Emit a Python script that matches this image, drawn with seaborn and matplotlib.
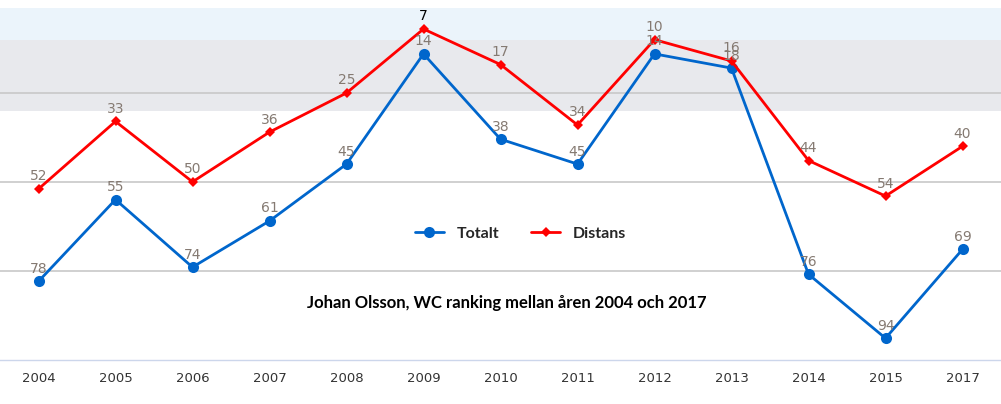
import pandas as pd
import numpy as np
import matplotlib.pyplot as plt
import seaborn as sns

# data
years = ['2004', '2005', '2006', '2007', '2008', '2009', '2010',
         '2011', '2012', '2013', '2014', '2015', '2017']
totalt = [78, 55, 74, 61, 45, 14, 38, 45, 14, 18, 76, 94, 69]
distans = [52, 33, 50, 36, 25, 7, 17, 34, 10, 16, 44, 54, 40]

df = pd.DataFrame({'year': years, 'Totalt': totalt, 'Distans': distans})
df['pos'] = np.arange(len(years))

sns.set_theme(style='white')
plt.rcParams['font.family'] = ['DejaVu Sans']

fig = plt.figure(figsize=(10.01, 4.04), dpi=100)
ax = fig.add_axes([0.0, 0.110, 1.0, 0.871])

# bands and grid
ax.axhspan(1, 10, color='#ebf4fb', zorder=0, lw=0)
ax.axhspan(10, 30, color='#e8e9ed', zorder=0, lw=0)
for g in [25, 50, 75]:
    ax.axhline(g, color='#c8c8c8', lw=1.2, zorder=1)

blue = '#0066cc'
red = '#ff0000'
sns.lineplot(data=df, x='pos', y='Totalt', ax=ax, color=blue, lw=2,
             marker='o', markersize=8, markeredgewidth=0, label='Totalt', zorder=3)
sns.lineplot(data=df, x='pos', y='Distans', ax=ax, color=red, lw=2,
             marker='D', markersize=5.5, markeredgewidth=0, label='Distans', zorder=4)

lab_col = '#857a72'
for i, (t, d) in enumerate(zip(totalt, distans)):
    ax.annotate(str(t), (i, t), xytext=(0, 4), textcoords='offset points',
                ha='center', va='bottom', fontsize=10, color=lab_col, zorder=6)
    ax.annotate(str(d), (i, d), xytext=(0, 4), textcoords='offset points',
                ha='center', va='bottom', fontsize=10,
                color='black' if d == min(distans) else lab_col, zorder=6)

ax.set_ylim(100, 1)
ax.set_xlim(-0.5, len(years) - 0.5)
ax.set_yticks([])
ax.set_xticks(df['pos'])
ax.set_xticklabels(years, fontsize=9.5, color='#333333')
ax.set_xticks(np.arange(len(years) + 1) - 0.5, minor=True)
ax.tick_params(axis='x', which='major', length=0, pad=9)
ax.tick_params(axis='x', which='minor', length=10, width=1, color='#ccd6eb', direction='out')
ax.set_xlabel('')
ax.set_ylabel('')
for s in ['top', 'left', 'right']:
    ax.spines[s].set_visible(False)
ax.spines['bottom'].set_color('#ccd6eb')
ax.spines['bottom'].set_linewidth(1)

leg = ax.legend(loc='center', bbox_to_anchor=(0.52, 0.358), ncol=2, frameon=False,
                prop={'family': ['Lato', 'DejaVu Sans'], 'weight': 'bold', 'size': 11.5},
                handlelength=1.8, columnspacing=2.0, handletextpad=0.8)

ax.text(0.506, 0.162, 'Johan Olsson, WC ranking mellan åren 2004 och 2017',
        transform=ax.transAxes, ha='center', va='center', fontsize=12,
        family=['Lato', 'DejaVu Sans'], fontweight='bold', color='black')

plt.savefig('out.png', dpi=100)
